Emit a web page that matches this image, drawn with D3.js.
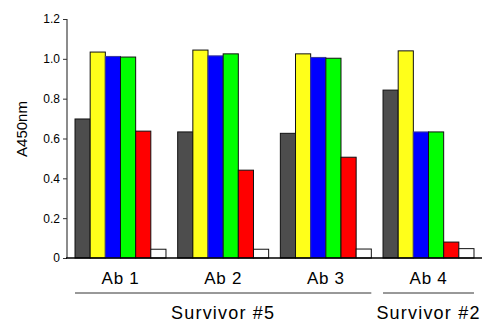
<!DOCTYPE html>
<html lang="en">
    <head>
        <meta charset="utf-8">
        <title>A450nm by antibody</title>
        <script src="https://d3js.org/d3.v7.min.js"></script>
        <style type="text/css">
            body { margin: 0; background: #fff; }
            text { font-family: "Liberation Sans", Arial, sans-serif; fill: #000; }
        </style>
    </head>
    <body>
        <script>
            // data
            var groups = ["Ab 1", "Ab 2", "Ab 3", "Ab 4"];
            var series = ["s1", "s2", "s3", "s4", "s5", "s6"];
            var colors = ["#4d4d4d", "#ffff1a", "#0000ff", "#00ff00", "#ff0000", "#ffffff"];
            var values = [
                [0.698, 1.034, 1.012, 1.009, 0.637, 0.044],
                [0.633, 1.044, 1.015, 1.025, 0.441, 0.044],
                [0.626, 1.025, 1.007, 1.003, 0.506, 0.045],
                [0.843, 1.040, 0.633, 0.633, 0.080, 0.047]
            ];
            var yTicks = [0, 0.2, 0.4, 0.6, 0.8, 1.0, 1.2];
            var survivorNames = ["Survivor #5", "Survivor #2"];
            var survivorFirst = ["Ab 1", "Ab 4"];
            var survivorLast = ["Ab 3", "Ab 4"];

            // configuration
            var outerWidth = 482;
            var outerHeight = 322;
            var axisX = 67;
            var zeroY = 258;
            var topY = 19;

            var svg = d3.select("body")
                        .append("svg")
                        .attr("width", outerWidth)
                        .attr("height", outerHeight);

            var xScale = d3.scaleBand()
                .domain(groups)
                .range([axisX, outerWidth])
                .paddingInner(0.114)
                .paddingOuter(0.078);

            var xInner = d3.scaleBand()
                .domain(series)
                .range([0, xScale.bandwidth()]);

            var yScale = d3.scaleLinear()
                .domain([0, 1.2])
                .range([zeroY, topY]);

            // bars
            var g = svg.append("g");
            var groupG = g.selectAll("g.grp").data(values).enter().append("g")
                .attr("class", "grp")
                .attr("transform", function (d, i) { return "translate(" + xScale(groups[i]) + ",0)"; });

            groupG.selectAll("rect").data(function (d) { return d; }).enter().append("rect")
                .attr("x", function (d, i) { return xInner(series[i]); })
                .attr("y", function (d) { return yScale(d); })
                .attr("width", xInner.bandwidth())
                .attr("height", function (d) { return zeroY - yScale(d); })
                .attr("fill", function (d, i) { return colors[i]; })
                .attr("stroke", function (d, i) { return i == 2 ? "#3a3a9a" : "#111"; })
                .attr("stroke-width", 1);

            // y axis
            var yAxis = d3.axisLeft(yScale)
                .tickValues(yTicks)
                .tickSize(4)
                .tickPadding(3)
                .tickFormat(function (d) { return d == 0 ? "0" : d3.format(".1f")(d); });

            var yG = svg.append("g")
                .attr("transform", "translate(" + axisX + ",0)")
                .call(yAxis);
            yG.select(".domain").attr("stroke", "#666").attr("stroke-width", 1.5)
                .attr("d", "M0," + topY + "V" + zeroY);
            yG.selectAll(".tick line").attr("stroke", "#333");
            yG.selectAll(".tick text")
                .style("font-size", "12px")
                .style("font-family", "'Liberation Sans', Arial, sans-serif");

            // x baseline
            svg.append("line")
                .attr("x1", axisX - 1).attr("x2", outerWidth)
                .attr("y1", zeroY).attr("y2", zeroY)
                .attr("stroke", "#000").attr("stroke-width", 1.5);

            // y label
            svg.append("text")
                .attr("transform", "translate(27,129) rotate(-90)")
                .attr("text-anchor", "middle")
                .style("font-size", "15px")
                .text("A450nm");

            // group labels
            svg.selectAll("text.grp").data(groups).enter().append("text")
                .attr("class", "grp")
                .attr("x", function (d) { return xScale(d) + xScale.bandwidth() / 2; })
                .attr("y", 284)
                .attr("text-anchor", "middle")
                .style("font-size", "17px")
                .style("letter-spacing", "0.7px")
                .text(function (d) { return d; });

            // survivor brackets
            survivorNames.forEach(function (name, i) {
                var x0 = xScale(survivorFirst[i]);
                var x1 = xScale(survivorLast[i]) + xScale.bandwidth();
                svg.append("line")
                    .attr("x1", x0).attr("x2", x1)
                    .attr("y1", 293).attr("y2", 293)
                    .attr("stroke", "#333").attr("stroke-width", 1);
                svg.append("text")
                    .attr("x", (x0 + x1) / 2)
                    .attr("y", 319)
                    .attr("text-anchor", "middle")
                    .style("font-size", "18px")
                    .style("letter-spacing", "1.2px")
                    .text(name);
            });
        </script>
    </body>
</html>
